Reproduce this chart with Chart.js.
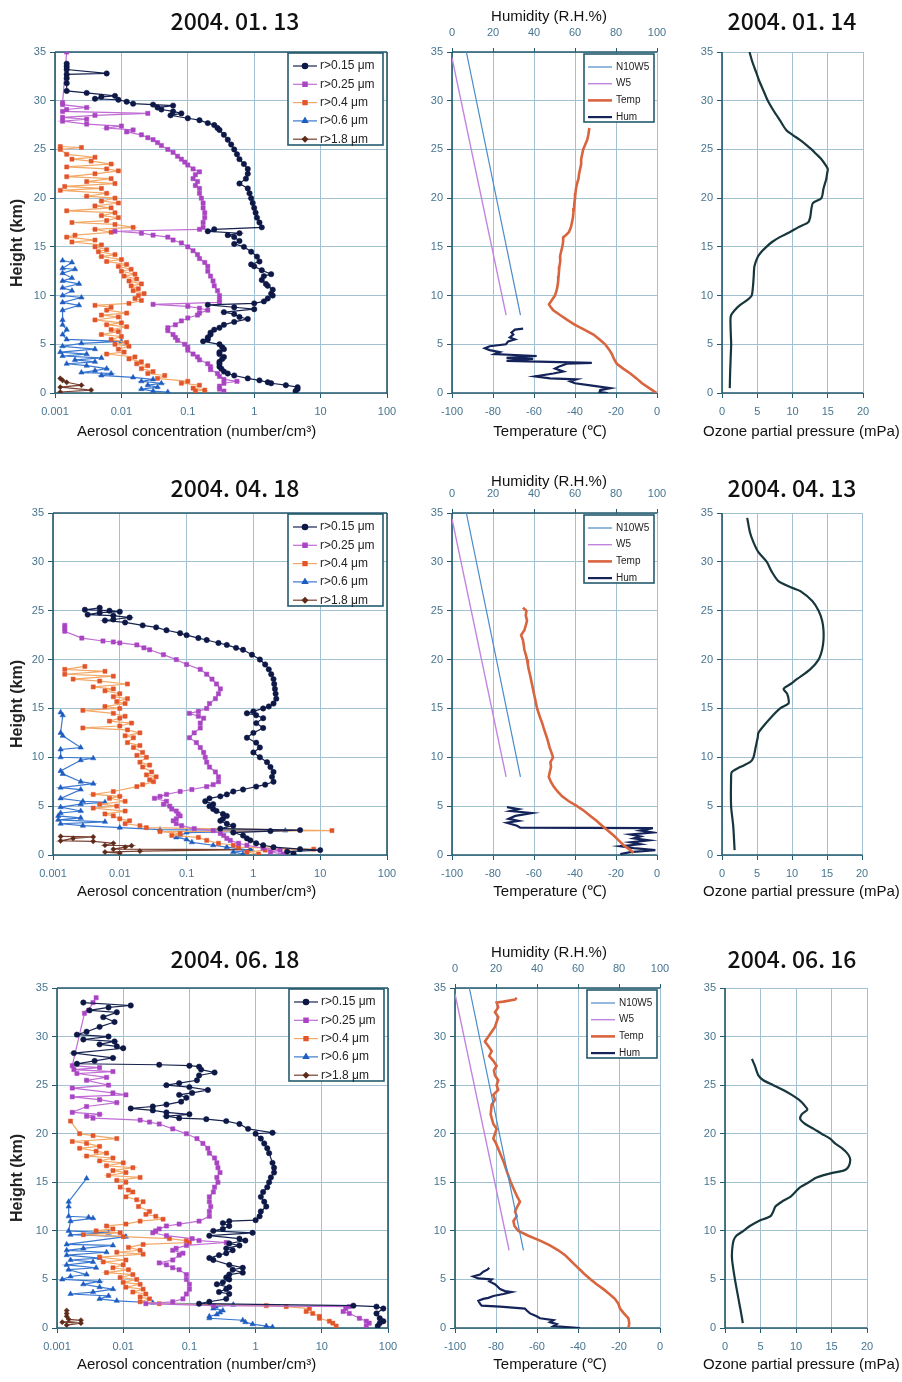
<!DOCTYPE html>
<html>
<head>
<meta charset="utf-8">
<script src="https://cdn.jsdelivr.net/npm/chart.js@4.4.1/dist/chart.umd.min.js"></script>
<style>
  html, body { margin: 0; padding: 0; background: #fff; }
  #page { position: relative; width: 902px; height: 1382px; overflow: hidden; background: #fff; }
  #page canvas { position: absolute; }
  .t { position: absolute; white-space: nowrap; color: #111; line-height: 1;
       font-family: 'Liberation Sans', Arial, sans-serif; font-size: 15px; }
  .date { font-family: 'Noto Sans CJK JP', sans-serif; font-size: 23px; font-weight: 500; transform: translate(-50%, -50%); }
  .ctr { transform: translate(-50%, -50%); }
  .mid { transform: translateY(-50%); }
  .rot { font-size: 16px; font-weight: bold; color: #222; transform: translate(-50%, -50%) rotate(-90deg); }
</style>
</head>
<body>
<div id="page"></div>
<script>
// ---- ticks and labels ----
const heightTicks = [0, 5, 10, 15, 20, 25, 30, 35];
const concTicks = [0.001, 0.01, 0.1, 1, 10, 100];
const concLabels = ['0.001', '0.01', '0.1', '1', '10', '100'];
const tempTicks = [-100, -80, -60, -40, -20, 0];
const humTicks = [0, 20, 40, 60, 80, 100];
const ozoneTicks = [0, 5, 10, 15, 20];

const sizeLabels = ['r>0.15 μm', 'r>0.25 μm', 'r>0.4 μm', 'r>0.6 μm', 'r>1.8 μm'];
const profileLabels = ['N10W5', 'W5', 'Temp', 'Hum'];
const aerosolDates = ['2004. 01. 13', '2004. 04. 18', '2004. 06. 18'];
const ozoneDates = ['2004. 01. 14', '2004. 04. 13', '2004. 06. 16'];

// reference lines, [height km, temperature C]
const n10w5Line = [[35, -93], [8, -66.6]];
const w5Line = [[34.4, -100], [8, -73.6]];

// ---- aerosol profiles, [height km, number/cm3] ----
const aerJan015 = [[33.8,0.0015],[33.5,0.0015],[33.2,0.0015],[32.8,0.006],[32.7,0.0015],[32.3,0.0015],[31.8,0.0015],[31,0.0015],[30.8,0.003],[30.5,0.008],[30.4,0.005],[30.2,0.004],[30.1,0.009],[29.9,0.012],[29.7,0.015],[29.6,0.03],[29.5,0.06],[29.3,0.035],[29.1,0.04],[28.9,0.06],[28.7,0.08],[28.5,0.055],[28.2,0.1],[28,0.15],[27.7,0.2],[27.5,0.25],[27.2,0.28],[27,0.3],[26.5,0.35],[26,0.4],[25.5,0.45],[25,0.5],[24.5,0.55],[24,0.6],[23.5,0.7],[23,0.8],[22.5,0.8],[22,0.75],[21.5,0.6],[21,0.8],[20.5,0.85],[20,0.9],[19.5,0.95],[19,1.0],[18.5,1.05],[18,1.1],[17.5,1.2],[17,1.3],[16.8,0.25],[16.6,0.2],[16.4,0.6],[16.2,0.4],[16,0.5],[15.6,0.6],[15.3,0.5],[15,0.7],[14.5,0.9],[14,1.1],[13.5,1.2],[13.2,0.9],[13,1.0],[12.6,1.3],[12.2,1.8],[12,1.4],[11.6,1.3],[11.2,1.5],[11,1.6],[10.6,1.9],[10.2,1.8],[10,1.9],[9.7,1.6],[9.4,1.4],[9.2,1.0],[9.05,0.2],[8.8,0.5],[8.6,1.0],[8.3,0.35],[8.1,0.5],[7.8,0.6],[7.6,0.8],[7.3,0.5],[7,0.35],[6.7,0.3],[6.5,0.25],[6.2,0.22],[6,0.22],[5.7,0.2],[5.5,0.2],[5.3,0.17],[5,0.3],[4.7,0.33],[4.5,0.35],[4.2,0.3],[4,0.3],[3.7,0.35],[3.5,0.33],[3.2,0.3],[3,0.3],[2.7,0.3],[2.5,0.32],[2.2,0.35],[2,0.4],[1.8,0.5],[1.5,0.8],[1.3,1.2],[1.1,1.6],[1,1.8],[0.8,3],[0.6,4.5],[0.4,4.5],[0.2,4.2]];
const aerJan025 = [[35,0.0015],[29.8,0.0013],[29.6,0.0013],[29.3,0.003],[29.1,0.0015],[28.9,0.0013],[28.7,0.025],[28.5,0.004],[28.3,0.0013],[28.1,0.003],[27.9,0.0013],[27.6,0.003],[27.4,0.01],[27.2,0.006],[27,0.015],[26.8,0.012],[26.5,0.02],[26.2,0.025],[26,0.03],[25.7,0.035],[25.4,0.04],[25,0.05],[24.7,0.06],[24.3,0.07],[24,0.08],[23.7,0.09],[23.4,0.1],[23,0.12],[22.7,0.15],[22.4,0.13],[22,0.12],[21.7,0.14],[21.3,0.13],[21,0.15],[20.5,0.15],[20,0.16],[19.5,0.17],[19,0.17],[18.5,0.18],[18,0.18],[17.5,0.17],[17,0.17],[16.8,0.15],[16.6,0.008],[16.4,0.02],[16.2,0.03],[16,0.05],[15.7,0.06],[15.4,0.08],[15,0.1],[14.6,0.12],[14.2,0.14],[13.8,0.15],[13.4,0.18],[13,0.2],[12.5,0.2],[12,0.22],[11.5,0.24],[11,0.25],[10.5,0.28],[10,0.3],[9.6,0.3],[9.3,0.3],[9.1,0.03],[8.9,0.1],[8.7,0.15],[8.5,0.2],[8.2,0.15],[8,0.14],[7.7,0.1],[7.4,0.08],[7,0.065],[6.7,0.05],[6.4,0.05],[6,0.06],[5.7,0.065],[5.4,0.07],[5,0.09],[4.7,0.1],[4.4,0.1],[4,0.12],[3.7,0.14],[3.4,0.15],[3,0.2],[2.7,0.22],[2.4,0.22],[2,0.28],[1.7,0.3],[1.4,0.35],[1.2,0.55],[1,0.35],[0.7,0.3],[0.4,0.3],[0.2,0.35]];
const aerJan04 = [[25.3,0.0012],[25.2,0.0025],[25,0.0012],[24.5,0.0015],[24.2,0.004],[24,0.0018],[23.8,0.0035],[23.5,0.007],[23.2,0.0015],[23,0.006],[22.8,0.009],[22.5,0.004],[22.2,0.0015],[22,0.007],[21.7,0.003],[21.5,0.008],[21.2,0.0014],[21,0.005],[20.8,0.0012],[20.5,0.006],[20.2,0.003],[20,0.008],[19.7,0.005],[19.5,0.009],[19.2,0.004],[19,0.007],[18.7,0.0015],[18.5,0.008],[18.2,0.005],[18,0.009],[17.7,0.006],[17.5,0.0018],[17.3,0.008],[17,0.015],[16.8,0.004],[16.5,0.007],[16.2,0.002],[16,0.0015],[15.7,0.004],[15.5,0.0018],[15.2,0.005],[15,0.004],[14.7,0.006],[14.5,0.0045],[14.2,0.008],[14,0.005],[13.7,0.01],[13.5,0.006],[13.2,0.012],[13,0.009],[12.7,0.014],[12.5,0.01],[12.2,0.016],[12,0.011],[11.7,0.017],[11.5,0.013],[11.2,0.02],[11,0.014],[10.7,0.018],[10.5,0.015],[10.2,0.022],[10,0.018],[9.7,0.016],[9.5,0.02],[9.2,0.013],[9,0.004],[8.8,0.007],[8.5,0.006],[8.2,0.012],[8,0.005],[7.8,0.009],[7.5,0.004],[7.2,0.01],[7,0.006],[6.8,0.012],[6.5,0.007],[6.3,0.009],[6,0.005],[5.8,0.01],[5.5,0.007],[5.2,0.012],[5,0.008],[4.8,0.013],[4.5,0.009],[4.2,0.011],[4,0.006],[3.7,0.016],[3.5,0.013],[3.2,0.02],[3,0.017],[2.8,0.025],[2.5,0.02],[2.2,0.03],[2,0.025],[1.8,0.045],[1.5,0.035],[1.2,0.1],[1,0.08],[0.8,0.15],[0.5,0.12],[0.3,0.18],[0.2,0.13]];
const aerJan06 = [[13.6,0.0013],[13.4,0.0018],[12.8,0.0013],[12.7,0.002],[12.3,0.0013],[11.8,0.0018],[11.5,0.0013],[11.2,0.0023],[10.8,0.0013],[10.5,0.0018],[10,0.0013],[9.8,0.0025],[9.3,0.0013],[9,0.0023],[8.5,0.0013],[7.5,0.0013],[7,0.0013],[6.5,0.0015],[6,0.0013],[5.5,0.0015],[5.3,0.01],[5.1,0.0025],[4.8,0.0013],[4.5,0.004],[4.2,0.0012],[4,0.003],[3.8,0.0013],[3.6,0.005],[3.4,0.002],[3.2,0.004],[3,0.0015],[2.8,0.003],[2.5,0.006],[2.3,0.004],[2.1,0.0025],[2,0.007],[1.8,0.005],[1.6,0.015],[1.4,0.03],[1.2,0.02],[1,0.04],[0.8,0.025],[0.6,0.035],[0.4,0.02],[0.2,0.03],[0.1,0.05]];
const aerJan18 = [[1.5,0.0012],[1.3,0.0013],[1.1,0.0015],[0.8,0.0025],[0.6,0.0012],[0.3,0.0035],[0.1,0.0012]];

const aerApr015 = [[25.3,0.005],[25.1,0.003],[25,0.007],[24.9,0.01],[24.8,0.005],[24.6,0.0033],[24.5,0.008],[24.3,0.014],[24.1,0.008],[24,0.006],[23.8,0.012],[23.5,0.022],[23.3,0.035],[23,0.05],[22.7,0.08],[22.5,0.1],[22.2,0.15],[22,0.2],[21.7,0.3],[21.5,0.4],[21.2,0.55],[21,0.7],[20.5,0.95],[20,1.25],[19.5,1.5],[19,1.7],[18.5,1.85],[18,2.0],[17.5,2.05],[17,2.1],[16.5,2.15],[16,2.2],[15.5,2.0],[15.2,1.7],[15,1.4],[14.7,1.0],[14.5,0.8],[14.3,1.1],[14,1.4],[13.5,1.1],[13,1.4],[12.5,1.0],[12,0.8],[11.5,1.1],[11,1.25],[10.5,1.0],[10,1.25],[9.5,1.6],[9,1.8],[8.5,2.0],[8,1.9],[7.5,2.0],[7.2,1.5],[7,1.1],[6.7,0.7],[6.5,0.5],[6.2,0.4],[6,0.32],[5.8,0.22],[5.5,0.19],[5.2,0.25],[5,0.22],[4.7,0.25],[4.5,0.28],[4.2,0.35],[4,0.4],[3.7,0.35],[3.5,0.32],[3.2,0.4],[3,0.5],[2.7,0.32],[2.55,5],[2.45,1.8],[2.3,0.5],[2,0.7],[1.7,0.8],[1.5,0.9],[1.2,1.1],[1,1.4],[0.8,2],[0.6,5],[0.5,10],[0.35,3.2],[0.1,4]];
const aerApr025 = [[23.5,0.0015],[23.2,0.0015],[22.9,0.0015],[22.2,0.0027],[21.9,0.0056],[21.8,0.008],[21.7,0.01],[21.5,0.018],[21.2,0.023],[21,0.028],[20.5,0.045],[20,0.07],[19.5,0.1],[19,0.16],[18.5,0.2],[18,0.24],[17.5,0.28],[17,0.32],[16.5,0.3],[16,0.27],[15.5,0.22],[15,0.2],[14.7,0.15],[14.5,0.11],[14.2,0.15],[14,0.18],[13.5,0.16],[13,0.16],[12.5,0.13],[12,0.11],[11.5,0.14],[11,0.16],[10.5,0.18],[10,0.19],[9.5,0.2],[9,0.22],[8.5,0.27],[8,0.3],[7.5,0.3],[7.2,0.25],[7,0.2],[6.7,0.12],[6.5,0.08],[6.2,0.05],[6,0.04],[5.8,0.033],[5.5,0.05],[5.2,0.045],[5,0.056],[4.7,0.06],[4.5,0.07],[4.2,0.075],[4,0.08],[3.7,0.07],[3.5,0.063],[3.2,0.07],[3,0.084],[2.7,0.13],[2.5,0.25],[2.2,0.32],[2,0.36],[1.7,0.4],[1.5,0.45],[1.2,0.6],[1,0.8],[0.7,1.4],[0.5,2.5],[0.3,1.8],[0.1,2.8]];
const aerApr04 = [[19.3,0.003],[19,0.0015],[18.8,0.006],[18.5,0.0015],[18.3,0.008],[18,0.002],[17.8,0.005],[17.5,0.013],[17.2,0.004],[17,0.008],[16.8,0.006],[16.5,0.01],[16.2,0.008],[16,0.013],[15.7,0.009],[15.5,0.012],[15.2,0.006],[15,0.01],[14.8,0.0028],[14.5,0.008],[14.2,0.012],[14,0.01],[13.7,0.007],[13.5,0.015],[13.2,0.01],[13,0.0028],[12.8,0.013],[12.5,0.02],[12.2,0.012],[12,0.016],[11.5,0.013],[11.2,0.02],[11,0.016],[10.5,0.022],[10.2,0.018],[10,0.025],[9.5,0.02],[9.2,0.028],[9,0.022],[8.5,0.03],[8.2,0.025],[8,0.035],[7.7,0.028],[7.5,0.032],[7.2,0.022],[7,0.018],[6.5,0.008],[6.2,0.004],[6,0.01],[5.8,0.007],[5.5,0.012],[5.2,0.005],[5,0.009],[4.8,0.004],[4.5,0.012],[4.2,0.006],[4,0.008],[3.7,0.01],[3.5,0.014],[3.2,0.012],[3,0.02],[2.8,0.025],[2.5,15],[2.4,0.04],[2.2,0.08],[2,0.06],[1.8,0.15],[1.5,0.2],[1.2,0.3],[1,0.5],[0.8,0.6],[0.6,8],[0.5,1.5],[0.3,0.8],[0.1,1.2]];
const aerApr06 = [[14.6,0.0013],[14.3,0.0014],[12.5,0.0013],[12.2,0.0014],[11,0.0026],[10.8,0.0013],[10,0.0013],[9.9,0.004],[9.7,0.0026],[8.6,0.0013],[8.3,0.0014],[7.5,0.0026],[7.3,0.004],[6.9,0.0013],[6.7,0.0026],[5.8,0.0013],[5.5,0.0028],[5.4,0.006],[5.2,0.0026],[4.9,0.0013],[4.5,0.0026],[4.3,0.0013],[4,0.0012],[3.8,0.0026],[3.6,0.0012],[3.4,0.006],[3.2,0.0013],[3,0.0028],[2.8,0.01],[2.6,0.04],[2.5,3],[2.3,0.1],[2,0.08],[1.8,0.07],[1.6,0.1],[1.3,0.12],[1,0.25],[0.8,0.4],[0.5,0.9],[0.3,0.5],[0.1,0.7]];
const aerApr18 = [[1.9,0.0013],[1.85,0.004],[1.7,0.002],[1.45,0.0013],[1.4,0.004],[1.2,0.008],[1,0.006],[0.95,0.015],[0.8,0.012],[0.6,0.008],[0.55,0.9],[0.4,0.02],[0.3,0.006],[0.2,0.01]];

const aerJun015 = [[33.5,0.0025],[33.2,0.013],[33,0.006],[32.7,0.0031],[32.5,0.008],[32,0.005],[31.5,0.0074],[31,0.0044],[30.5,0.0028],[30.2,0.002],[30,0.006],[29.7,0.0025],[29.5,0.0074],[29.2,0.0044],[29,0.008],[28.8,0.01],[28.3,0.0018],[27.8,0.007],[27.5,0.0037],[27.2,0.002],[27.1,0.035],[27,0.1],[26.9,0.14],[26.6,0.15],[26.3,0.24],[26,0.14],[25.5,0.13],[25.2,0.07],[25,0.045],[24.8,0.1],[24.5,0.19],[24.2,0.11],[24,0.07],[23.7,0.09],[23.3,0.075],[23,0.045],[22.8,0.028],[22.6,0.013],[22.4,0.028],[22.2,0.045],[22,0.1],[21.8,0.045],[21.6,0.07],[21.5,0.18],[21.3,0.36],[21,0.57],[20.5,0.77],[20.1,1.8],[20,1.0],[19.5,1.2],[19,1.35],[18.5,1.5],[18,1.6],[17,1.8],[16.5,1.9],[16,1.9],[15.5,1.7],[15,1.6],[14.5,1.5],[14,1.3],[13.5,1.2],[13,1.35],[12.5,1.45],[12,1.2],[11.5,1.15],[11.1,1.0],[11,0.4],[10.8,0.32],[10.5,0.4],[10.2,0.32],[10,0.23],[9.8,0.9],[9.5,0.2],[9.2,0.57],[9,0.7],[8.7,0.4],[8.5,0.57],[8.2,0.36],[8,0.45],[7.7,0.36],[7.5,0.28],[7.2,0.2],[7,0.23],[6.5,0.4],[6.2,0.64],[6,0.45],[5.7,0.64],[5.5,0.4],[5.2,0.36],[5,0.4],[4.7,0.32],[4.5,0.26],[4.2,0.4],[4,0.36],[3.7,0.28],[3.5,0.4],[3,0.36],[2.7,0.2],[2.5,0.14],[2.3,30],[2.2,67],[2,85],[1.5,67],[1,75],[0.7,85],[0.5,75],[0.2,70]];
const aerJun025 = [[34,0.0039],[33.5,0.0035],[32.7,0.003],[32.4,0.0026],[27,0.0017],[26.8,0.0044],[26.6,0.0018],[26.4,0.007],[26.2,0.002],[25.8,0.0056],[25.5,0.0028],[25,0.006],[24.7,0.0017],[24.2,0.007],[24,0.011],[23.8,0.0017],[23.5,0.0044],[23.2,0.008],[22.8,0.0028],[22.2,0.0017],[22,0.0044],[21.8,0.0028],[21.6,0.0035],[21.4,0.018],[21.2,0.025],[21,0.035],[20.5,0.056],[20,0.09],[19.5,0.13],[19,0.16],[18.5,0.19],[18,0.2],[17.5,0.24],[17,0.26],[16.5,0.27],[16,0.29],[15.5,0.26],[15,0.27],[14.5,0.24],[14,0.23],[13.5,0.2],[13,0.2],[12.5,0.21],[12,0.2],[11.5,0.2],[11,0.14],[10.7,0.07],[10.5,0.045],[10.2,0.035],[10,0.031],[9.8,0.028],[9.5,0.045],[9.2,0.11],[9,0.14],[8.8,0.36],[8.5,0.09],[8.2,0.063],[8,0.056],[7.7,0.08],[7.5,0.07],[7,0.056],[6.7,0.035],[6.5,0.045],[6.2,0.056],[6,0.07],[5.5,0.09],[5,0.09],[4.5,0.1],[4,0.1],[3.5,0.09],[3,0.08],[2.7,0.056],[2.5,0.022],[2.3,0.23],[2.2,26],[2,23],[1.7,21],[1.5,26],[1,37],[0.7,47],[0.5,52],[0.2,47]];
const aerJun04 = [[21.3,0.0016],[20,0.0022],[19.8,0.0035],[19.5,0.008],[19.2,0.0017],[19,0.0028],[18.7,0.0044],[18.5,0.0022],[18.2,0.0039],[18,0.0056],[17.7,0.0028],[17.5,0.007],[17.2,0.0044],[17,0.01],[16.7,0.0056],[16.5,0.014],[16.2,0.007],[16,0.011],[15.7,0.006],[15.5,0.018],[15.2,0.008],[15,0.011],[14.5,0.009],[14.2,0.012],[14,0.014],[13.5,0.011],[13.2,0.016],[13,0.02],[12.5,0.017],[12,0.025],[11.7,0.022],[11.5,0.031],[11.2,0.04],[11,0.018],[10.7,0.011],[10.5,0.0056],[10.2,0.007],[10,0.0039],[9.8,0.009],[9.6,0.0025],[9.4,0.01],[9.2,0.05],[9,0.09],[8.8,0.1],[8.6,0.02],[8.3,0.012],[8,0.018],[7.8,0.008],[7.6,0.02],[7.3,0.0044],[7,0.011],[6.8,0.005],[6.5,0.01],[6.2,0.007],[6,0.012],[5.7,0.0056],[5.5,0.014],[5.2,0.009],[5,0.016],[4.7,0.01],[4.5,0.018],[4.2,0.011],[4,0.02],[3.7,0.014],[3.5,0.022],[3.2,0.018],[3,0.025],[2.7,0.018],[2.5,0.035],[2.3,1.45],[2.2,2.9],[2,6.5],[1.7,5.8],[1.5,7.3],[1.2,9.2],[1,9.2],[0.7,13],[0.5,14.7],[0.2,16.5]];
const aerJun06 = [[15.4,0.0028],[13,0.0015],[12.5,0.0015],[11.5,0.0015],[11.4,0.003],[11.3,0.0035],[11,0.0016],[10,0.0015],[9.8,0.006],[9.6,0.0016],[9.4,0.011],[8.6,0.0014],[8.5,0.007],[8.2,0.0025],[8,0.0014],[7.8,0.0056],[7.5,0.0014],[7.2,0.0044],[7,0.0016],[6.8,0.0035],[6.5,0.0014],[6.2,0.0039],[6,0.0015],[5.5,0.0028],[5.3,0.0016],[5,0.0012],[4.8,0.0044],[4.5,0.0025],[4.2,0.0044],[4,0.007],[3.7,0.0035],[3.5,0.0016],[3.3,0.006],[3,0.0044],[2.8,0.008],[2.6,0.028],[2.4,0.46],[2.2,0.25],[2,0.23],[1.8,0.32],[1.6,0.29],[1.4,0.26],[1.2,0.2],[1,0.2],[0.8,0.64],[0.6,0.7],[0.4,0.9],[0.2,1.45],[0.1,1.8]];
const aerJun18 = [[1.8,0.0014],[1.5,0.0014],[1.2,0.0014],[0.9,0.0015],[0.8,0.0023],[0.6,0.0012],[0.5,0.0023],[0.3,0.0014]];

// ---- temperature (C) and humidity (%RH) soundings, [height km, value] ----
const tempJan = [[27.2,-33],[26.5,-33.5],[26,-34],[25.5,-35],[25,-36],[24.5,-36.5],[24,-37],[23.5,-37],[23,-37.5],[22.5,-38],[22,-38.3],[21.5,-39],[21,-39.5],[20.5,-39.8],[20,-40],[19.5,-40.3],[19,-40.5],[18.5,-40.8],[18,-41],[17.5,-41.5],[17,-42],[16.5,-43],[16.2,-44.5],[16,-45.7],[15.5,-45.8],[15,-46.2],[14.5,-46.8],[14,-47.3],[13.5,-47.2],[13,-47.6],[12.5,-47.8],[12,-48],[11.5,-48.2],[11,-48.5],[10.5,-49],[10,-49.8],[9.5,-51.4],[9.1,-52.7],[8.8,-51.8],[8.5,-50.6],[8,-47.3],[7.5,-43.8],[7,-40],[6.5,-35.5],[6,-31],[5.5,-28],[5,-25.3],[4.5,-23.5],[4,-22],[3.5,-21],[3,-19.6],[2.5,-16.5],[2,-13],[1.5,-10],[1,-7.3],[0.5,-3.8],[0,-0.3]];
const humJan = [[6.6,34.7],[6.5,30.7],[6.2,29],[6,29.9],[5.7,28.2],[5.5,30.7],[5.3,27.4],[5,26.3],[4.8,18.4],[4.6,16],[4.4,18.4],[4.2,23.3],[4,20.9],[3.8,41.3],[3.6,26.6],[3.5,39.6],[3.3,26.6],[3.1,68.2],[3,56],[2.7,52],[2.5,50.2],[2.2,54.3],[2,49.4],[1.7,40.5],[1.5,47.8],[1.4,60.8],[1.2,57.6],[1,60],[0.8,66.6],[0.5,77.2],[0.3,72.3],[0.1,72],[0,76]];
const tempApr = [[25.3,-65.4],[25,-63.7],[24.5,-64],[24,-63.4],[23.5,-64],[23,-64.7],[22.5,-66.3],[22,-65.4],[21.5,-65],[21,-64.7],[20.5,-64],[20,-63.4],[19.5,-63],[19,-62.6],[18.5,-62],[18,-61.5],[17.5,-61],[17,-60.5],[16.5,-60],[16,-59.5],[15.5,-59],[15,-58.5],[14.5,-57.7],[14,-56.9],[13.5,-56],[13,-55.3],[12.5,-54.5],[12,-53.7],[11.5,-53],[11,-52.4],[10.5,-51.5],[10,-50.7],[9.5,-52],[9,-51.7],[8.5,-52.3],[8,-52.8],[7.5,-51.8],[7,-50.4],[6.5,-48.5],[6,-46.3],[5.5,-43],[5,-39],[4.5,-35.5],[4,-32.5],[3.5,-29.5],[3,-26.8],[2.5,-24],[2,-21.1],[1.5,-18.7],[1,-16.3],[0.5,-13],[0.2,-11.4]];
const humApr = [[4.9,26.8],[4.7,32.5],[4.5,28.5],[4.3,39],[4,30.9],[3.7,27.6],[3.5,32.5],[3.3,26.8],[3,31.7],[2.8,33.3],[2.75,98],[2.5,91.9],[2.3,98.4],[2.1,87],[1.9,91.9],[1.7,88.6],[1.5,95.9],[1.3,87],[1.1,91.9],[0.9,82.1],[0.7,88.6],[0.5,99.2],[0.3,87],[0.1,82.1]];
const tempJun = [[34,-69.9],[33.8,-70.7],[33.6,-76.4],[33.5,-79.7],[33,-78.9],[32.5,-80.5],[32,-78.9],[31.5,-79.7],[31,-80.5],[30.5,-82.1],[30,-83.7],[29.5,-85.4],[29,-83.7],[28.5,-82.1],[28,-83.3],[27.5,-81.3],[27,-79.7],[26.5,-81],[26,-80.5],[25.5,-78.9],[25,-79.7],[24.5,-78.9],[24,-81.3],[23.5,-80.5],[23,-82.1],[22,-82.6],[21,-81.3],[20.5,-79.7],[20,-80.5],[19.5,-81.3],[19,-80],[18,-78],[17,-76.1],[16,-74.5],[15,-72.8],[14,-70.7],[13.5,-69.6],[13,-68.3],[12.5,-69.6],[12,-70.7],[11.5,-69.9],[11,-71.5],[10.5,-71],[10,-69.1],[9.5,-64.2],[9,-58.5],[8.5,-53.7],[8,-49.6],[7.5,-46.3],[7,-43.9],[6.5,-41.5],[6,-39],[5.5,-36.6],[5,-33.8],[4.5,-30.9],[4,-27.6],[3.5,-24.7],[3,-22],[2.5,-20.3],[2,-19.5],[1.5,-17.6],[1,-15.4],[0.5,-15],[0,-15.4]];
const humJun = [[6.2,16.7],[6,15.8],[5.8,13.8],[5.5,12.2],[5.3,8.9],[5.1,11.4],[5,17.9],[4.8,16.7],[4.5,19.5],[4.2,21.1],[4,22],[3.8,24.4],[3.7,27.6],[3.5,23.6],[3.3,18.7],[3.1,16.3],[3,13.8],[2.8,11.4],[2.5,12.2],[2.3,13],[2.2,22],[2,34.1],[1.8,35],[1.5,36.6],[1.2,39.8],[1,41.5],[0.8,48],[0.6,46.3],[0.4,49.6],[0.2,48],[0.1,54.5],[0,61]];

// ---- ozone sondes, [height km, mPa] ----
const ozoneJan = [[35,3.9],[34,4.3],[33,4.8],[32,5.3],[31,5.9],[30,6.5],[29,7.3],[28,8.2],[27,9.1],[26.5,10],[26,11],[25.5,11.9],[25,12.7],[24.5,13.4],[24,14.1],[23.5,14.6],[23,15],[22.5,14.9],[22,14.8],[21,14.4],[20,14.1],[19.5,12.9],[19,12.7],[18,12.5],[17.5,12.2],[17,10.8],[16.5,9.6],[16,8.2],[15.5,7.1],[15,6.3],[14.5,5.6],[14,5.1],[13,4.6],[12,4.5],[11,4.4],[10,4.2],[9.5,3.5],[9,2.5],[8.5,1.8],[8,1.3],[7.5,1.2],[6,1.25],[5,1.3],[4,1.25],[3,1.2],[2,1.15],[0.5,1.1]];
const ozoneApr = [[34.5,3.6],[33,4],[32,4.5],[31,5.2],[30,6.4],[29,7.1],[28,8.1],[27.3,10.2],[27,11.2],[26,12.9],[25,13.8],[24,14.3],[23,14.5],[22,14.5],[21,14.3],[20,13.8],[19,12.6],[18,10.7],[17.5,9.8],[17,8.8],[16.5,9.3],[16,9.5],[15.5,9.5],[15,8.3],[14,6.9],[13,5.7],[12.5,5.2],[12,5.1],[11,4.8],[10,4.5],[9.5,4],[9,2.6],[8.5,1.4],[8,1.3],[5,1.3],[3,1.6],[0.5,1.8]];
const ozoneJun = [[27.7,3.8],[27,4.2],[26,4.7],[25.5,5.4],[25,6.8],[24.5,8.2],[24,9.4],[23.5,10.4],[23,11.1],[22.5,11.6],[22,10.8],[21.5,10.6],[21,11.3],[20.5,12.5],[20,13.6],[19.5,14.8],[19,15.5],[18.5,16.5],[18,17.2],[17.5,17.6],[17,17.6],[16.5,17.3],[16.2,16.7],[16,15.3],[15.5,12.9],[15,11.8],[14.5,10.6],[14,9.9],[13.5,9.2],[13,8],[12.5,7.1],[12,6.8],[11.5,6.4],[11,4.7],[10.5,3.5],[10,2.6],[9.5,1.6],[9,1.2],[8,1],[7,1],[5,1.4],[3,1.9],[1,2.4],[0.5,2.5]];

const aerosolRows = [
  [aerJan015, aerJan025, aerJan04, aerJan06, aerJan18],
  [aerApr015, aerApr025, aerApr04, aerApr06, aerApr18],
  [aerJun015, aerJun025, aerJun04, aerJun06, aerJun18]
];
const tempRows = [tempJan, tempApr, tempJun];
const humRows = [humJan, humApr, humJun];
const ozoneRows = [ozoneJan, ozoneApr, ozoneJun];

// ---- page geometry (plot rectangles in page pixels) ----
const rows = [
  { top: 52, bottom: 393, aer: [55, 387], prof: [452, 657], oz: [722, 863], titleY: 20, humY: 15, xTitleY: 430 },
  { top: 513, bottom: 855, aer: [53, 387], prof: [452, 657], oz: [722, 862], titleY: 487, humY: 480, xTitleY: 890 },
  { top: 988, bottom: 1328, aer: [57, 388], prof: [455, 660], oz: [725, 867], titleY: 958, humY: 951, xTitleY: 1363 }
];

const AXIS = '#245a6e';
const GRID = '#a2c2d4';
const TICK = '#477590';
const TICK_FONT = { family: "'Liberation Sans', Arial, sans-serif", size: 11 };

const sizeStyles = [
  { line: '#16224f', fill: '#0d1846', shape: 'circle', r: 2.7 },
  { line: '#c06cd4', fill: '#a945c2', shape: 'rect', r: 3 },
  { line: '#f2a866', fill: '#e2542a', shape: 'rect', r: 2.9 },
  { line: '#3a78d0', fill: '#1f5cc0', shape: 'triangle', r: 3.1 },
  { line: '#7a4030', fill: '#5e2a1a', shape: 'rectRot', r: 2.6 }
];
const profileStyles = [
  { color: '#4a8cc8', width: 1.2 },
  { color: '#c384e0', width: 1.4 },
  { color: '#d9653e', width: 2.6 },
  { color: '#14245a', width: 2.2 }
];

const page = document.getElementById('page');

function toPoints(pairs) {
  return pairs.map(p => ({ x: p[1], y: p[0] }));
}

// axis lines drawn over the grid, under the data
const framePlugin = {
  id: 'frame',
  beforeDatasetsDraw(chart, args, opts) {
    const a = chart.chartArea, ctx = chart.ctx;
    ctx.save();
    ctx.strokeStyle = AXIS;
    ctx.lineWidth = 1.6;
    ctx.beginPath();
    (opts.sides || []).forEach(side => {
      if (side === 'left') { ctx.moveTo(a.left, a.top); ctx.lineTo(a.left, a.bottom); }
      if (side === 'bottom') { ctx.moveTo(a.left, a.bottom); ctx.lineTo(a.right, a.bottom); }
      if (side === 'top') { ctx.moveTo(a.left, a.top); ctx.lineTo(a.right, a.top); }
      if (side === 'right') { ctx.moveTo(a.right, a.top); ctx.lineTo(a.right, a.bottom); }
    });
    ctx.stroke();
    ctx.restore();
  }
};

// boxed legend in the upper right corner of the plot
const boxLegend = {
  id: 'boxLegend',
  afterDatasetsDraw(chart, args, o) {
    if (!o || !o.width) return;
    const a = chart.chartArea, ctx = chart.ctx;
    const x = a.right - o.right - o.width, y = a.top + o.top;
    ctx.save();
    ctx.fillStyle = '#fff';
    ctx.fillRect(x, y, o.width, o.height);
    ctx.lineWidth = 1.6;
    ctx.strokeStyle = AXIS;
    ctx.strokeRect(x, y, o.width, o.height);
    ctx.font = o.font;
    ctx.textBaseline = 'middle';
    ctx.textAlign = 'left';
    chart.data.datasets.forEach((ds, i) => {
      const cy = y + o.first + i * o.gap;
      ctx.strokeStyle = ds.borderColor;
      ctx.lineWidth = ds.borderWidth;
      ctx.beginPath();
      ctx.moveTo(x + o.lineFrom, cy);
      ctx.lineTo(x + o.lineTo, cy);
      ctx.stroke();
      if (ds.pointRadius > 0) {
        ctx.fillStyle = ds.pointBackgroundColor;
        ctx.strokeStyle = ds.pointBorderColor;
        Chart.helpers.drawPoint(ctx, { pointStyle: ds.pointStyle, radius: ds.pointRadius, rotation: 0, borderWidth: 1 },
          x + (o.lineFrom + o.lineTo) / 2, cy);
      }
      ctx.fillStyle = '#222';
      ctx.fillText(ds.label, x + o.textX, cy);
    });
    ctx.restore();
  }
};

Chart.register(framePlugin, boxLegend);

function valueScale(position, min, max, ticks, pad, onArea) {
  return {
    type: 'linear', position, min, max,
    afterBuildTicks: s => { s.ticks = ticks.map(v => ({ value: v })); },
    grid: { color: GRID, lineWidth: 1, tickLength: position === 'top' ? 4 : 5, tickColor: AXIS, drawOnChartArea: onArea },
    border: { display: false },
    ticks: { color: TICK, font: TICK_FONT, padding: pad, autoSkip: false, maxRotation: 0 }
  };
}

function addChart(rect, plot, datasets, scales, plugins, hasTop) {
  const cv = document.createElement('canvas');
  cv.width = rect.w;
  cv.height = rect.h;
  cv.style.left = rect.x + 'px';
  cv.style.top = rect.y + 'px';
  page.appendChild(cv);
  const l = plot.left - rect.x, t = plot.top - rect.y;
  const r = plot.right - rect.x, b = plot.bottom - rect.y;
  // pin the plot area to the wanted rectangle
  scales.y.afterFit = s => { s.width = l; };
  scales.x.afterFit = s => { s.height = rect.h - b; };
  if (hasTop) scales.x2.afterFit = s => { s.height = t; };
  return new Chart(cv, {
    type: 'scatter',
    data: { datasets },
    options: {
      responsive: false, animation: false, events: [], devicePixelRatio: 1,
      layout: { autoPadding: false, padding: { left: 0, top: hasTop ? 0 : t, right: rect.w - r, bottom: 0 } },
      plugins: Object.assign({ legend: { display: false }, tooltip: { enabled: false } }, plugins),
      scales
    }
  });
}

function addText(text, x, y, cls) {
  const d = document.createElement('div');
  d.className = 't ' + cls;
  d.textContent = text;
  d.style.left = x + 'px';
  d.style.top = y + 'px';
  page.appendChild(d);
}

rows.forEach((row, i) => {
  const h = row.bottom - row.top + 95;
  const y0 = row.top - 45;

  // aerosol concentration profile
  const aerSets = aerosolRows[i].map((pairs, k) => ({
    label: sizeLabels[k],
    data: toPoints(pairs),
    showLine: true,
    borderColor: sizeStyles[k].line,
    borderWidth: 1.2,
    pointStyle: sizeStyles[k].shape,
    pointRadius: sizeStyles[k].r,
    pointBackgroundColor: sizeStyles[k].fill,
    pointBorderColor: sizeStyles[k].fill,
    pointBorderWidth: 0.5
  }));
  const aerX = {
    type: 'logarithmic', position: 'bottom', min: 0.001, max: 100,
    afterBuildTicks: s => { s.ticks = concTicks.map(v => ({ value: v })); },
    grid: { color: GRID, lineWidth: 1, tickLength: 5, tickColor: AXIS },
    border: { display: false },
    ticks: { color: TICK, font: TICK_FONT, padding: 7, autoSkip: false, maxRotation: 0,
             callback: (v, idx) => concLabels[idx] }
  };
  addChart({ x: 0, y: y0, w: 410, h },
    { left: row.aer[0], right: row.aer[1], top: row.top, bottom: row.bottom },
    aerSets,
    { x: aerX, y: valueScale('left', 0, 35, heightTicks, 4, true) },
    { frame: { sides: ['left', 'bottom', 'top', 'right'] },
      boxLegend: { width: 95, height: 92, right: 4, top: 1, first: 13, gap: 18.3,
                   lineFrom: 5, lineTo: 29, textX: 32, font: "12px 'Liberation Sans', Arial, sans-serif" } },
    false);

  // temperature / humidity sounding
  const profData = [n10w5Line, w5Line, tempRows[i], humRows[i]];
  const profSets = profData.map((pairs, k) => ({
    label: profileLabels[k],
    data: toPoints(pairs),
    showLine: true,
    xAxisID: k === 3 ? 'x2' : 'x',
    borderColor: profileStyles[k].color,
    borderWidth: profileStyles[k].width,
    pointRadius: 0
  }));
  addChart({ x: 412, y: y0, w: 280, h },
    { left: row.prof[0], right: row.prof[1], top: row.top, bottom: row.bottom },
    profSets,
    { x: valueScale('bottom', -100, 0, tempTicks, 7, true),
      x2: valueScale('top', 0, 100, humTicks, 8, false),
      y: valueScale('left', 0, 35, heightTicks, 4, true) },
    { frame: { sides: ['left', 'bottom', 'top'] },
      boxLegend: { width: 70, height: 68, right: 3, top: 2, first: 13, gap: 16.7,
                   lineFrom: 4, lineTo: 28, textX: 32, font: "10px 'Liberation Sans', Arial, sans-serif" } },
    true);

  // ozone partial pressure
  addChart({ x: 692, y: y0, w: 210, h },
    { left: row.oz[0], right: row.oz[1], top: row.top, bottom: row.bottom },
    [{ label: 'O3', data: toPoints(ozoneRows[i]), showLine: true, borderColor: '#17373d',
       borderWidth: 2.2, pointRadius: 0, tension: 0.25 }],
    { x: valueScale('bottom', 0, 20, ozoneTicks, 7, true),
      y: valueScale('left', 0, 35, heightTicks, 4, true) },
    { frame: { sides: ['left', 'bottom'] } },
    false);

  // titles
  addText(aerosolDates[i], 235, row.titleY, 'date');
  addText(ozoneDates[i], 792, row.titleY, 'date');
  addText('Height (km)', 17, (row.top + row.bottom) / 2 + 20, 'rot');
  addText('Aerosol concentration (number/cm³)', 77, row.xTitleY, 'mid');
  addText('Temperature (℃)', 550, row.xTitleY, 'ctr');
  addText('Humidity (R.H.%)', 549, row.humY, 'ctr');
  addText('Ozone partial pressure (mPa)', 703, row.xTitleY, 'mid');
});
</script>
</body>
</html>
